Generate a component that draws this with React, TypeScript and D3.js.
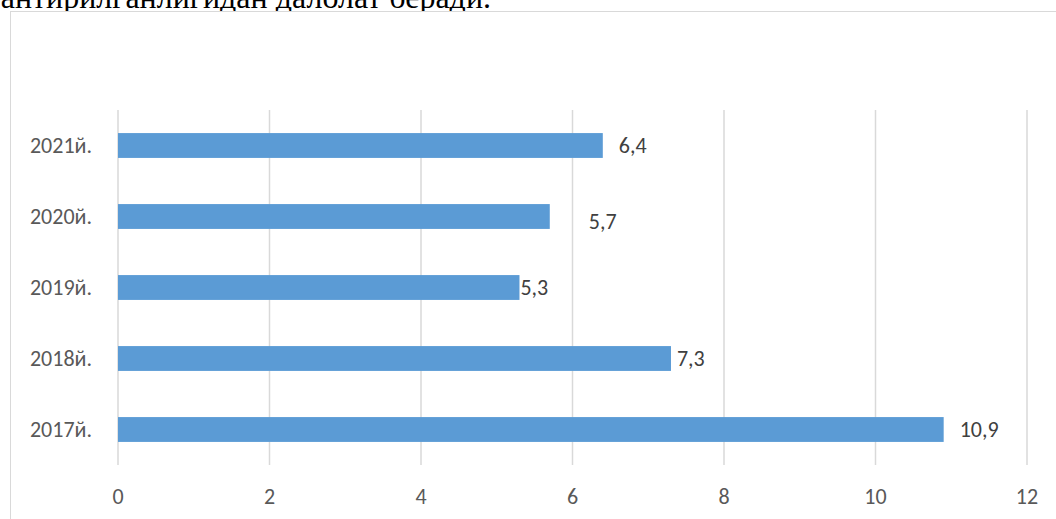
import React from "react";
import * as d3 from "d3";

const categories = ["2021й.", "2020й.", "2019й.", "2018й.", "2017й."];
const values = [6.4, 5.7, 5.3, 7.3, 10.9];
const valueLabels = ["6,4", "5,7", "5,3", "7,3", "10,9"];
const xTicks = [0, 2, 4, 6, 8, 10, 12];
// manual label nudges (style): [dx, dy]
const labelNudge: [number, number][] = [
  [16, 0],
  [39, 5],
  [1, 0],
  [6, 0],
  [16, 0],
];

const W = 1056;
const H = 519;
const FONT = "Carlito, Calibri, Lato, 'Open Sans', sans-serif";
const FS = 22;

export default function App() {
  const x = d3.scaleLinear().domain([0, 12]).range([118, 1027]);
  const y = d3
    .scaleBand<string>()
    .domain(categories)
    .range([110, 465])
    .paddingInner(0.65)
    .paddingOuter(0.325);

  return (
    <svg
      width={W}
      height={H}
      style={{ position: "absolute", left: 0, top: 0, display: "block", background: "#fff" }}
    >
      <text
        x={491}
        y={8}
        textAnchor="end"
        fontFamily="'Liberation Serif', 'Times New Roman', serif"
        fontSize={32}
        fill="#000"
      >
        антирилганлигидан далолат беради.
      </text>
      <rect x={10.5} y={11.5} width={W} height={H} fill="#fff" stroke="#D9D9D9" strokeWidth={1} />
      {xTicks.map((t) => (
        <line
          key={"g" + t}
          x1={x(t)}
          x2={x(t)}
          y1={110}
          y2={465}
          stroke="#D9D9D9"
          strokeWidth={1.5}
        />
      ))}
      {categories.map((c, i) => (
        <rect
          key={"b" + c}
          x={x(0)}
          y={y(c)!}
          width={x(values[i]) - x(0)}
          height={y.bandwidth()}
          fill="#5B9BD5"
        />
      ))}
      {categories.map((c, i) => (
        <text
          key={"l" + c}
          x={x(values[i]) + labelNudge[i][0]}
          y={y(c)! + y.bandwidth() / 2 + labelNudge[i][1]}
          dominantBaseline="central"
          fontFamily={FONT}
          fontSize={FS}
          fill="#404040"
        >
          {valueLabels[i]}
        </text>
      ))}
      {categories.map((c) => (
        <text
          key={"c" + c}
          x={92}
          y={y(c)! + y.bandwidth() / 2}
          textAnchor="end"
          dominantBaseline="central"
          fontFamily={FONT}
          fontSize={FS}
          fill="#595959"
        >
          {c}
        </text>
      ))}
      {xTicks.map((t) => (
        <text
          key={"t" + t}
          x={x(t)}
          y={496}
          textAnchor="middle"
          dominantBaseline="central"
          fontFamily={FONT}
          fontSize={FS}
          fill="#595959"
        >
          {t}
        </text>
      ))}
    </svg>
  );
}
